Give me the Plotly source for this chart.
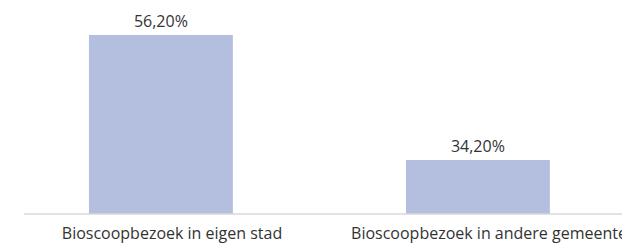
import plotly.graph_objects as go

categories = ["Bioscoopbezoek in eigen stad", "Bioscoopbezoek in andere gemeente"]
values = [56.2, 34.2]
value_labels = ["56,20%", "34,20%"]

fig = go.Figure(go.Bar(
    x=categories,
    y=values,
    text=value_labels,
    textposition="outside",
    textfont=dict(family="Open Sans", size=16, color="#333333"),
    marker=dict(color="#b4bfe0", line=dict(width=0)),
    width=0.454,
    offset=-0.262,
    cliponaxis=False,
    hoverinfo="skip",
))

fig.add_shape(type="line", xref="x", yref="paper", x0=-0.467, x1=1.6, y0=0, y1=0,
              line=dict(color="#d9d9d9", width=1.5))

fig.update_layout(
    width=630, height=248,
    margin=dict(l=0, r=0, t=0, b=42, autoexpand=False),
    paper_bgcolor="white", plot_bgcolor="white",
    showlegend=False,
    font=dict(family="Open Sans", size=16, color="#333333"),
    xaxis=dict(range=[-0.5174, 1.470], showline=False, showgrid=False, zeroline=False,
               automargin=False, ticks="", ticklabelstandoff=8,
               tickfont=dict(family="Open Sans", size=16, color="#333333")),
    yaxis=dict(range=[24.7, 60.97], visible=False, showgrid=False, zeroline=False,
               automargin=False),
)

fig.write_html("out.html")
